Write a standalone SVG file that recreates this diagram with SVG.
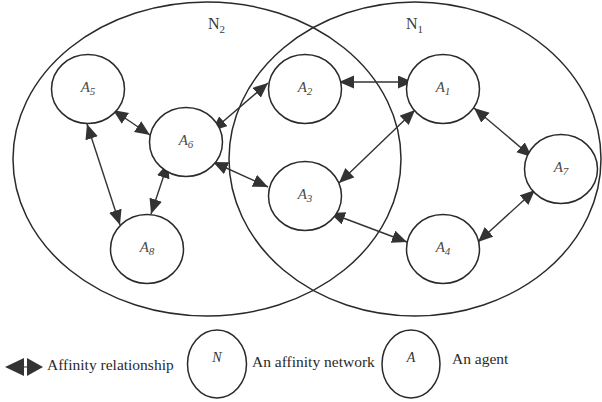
<svg xmlns="http://www.w3.org/2000/svg" width="602" height="402" viewBox="0 0 602 402">
<style>
text{font-family:'Liberation Serif','Times New Roman',Times,'DejaVu Serif',serif}
.net{fill:none;stroke:#2a2a2a;stroke-width:1.5}
.ag{fill:#fff;stroke:#2a2a2a;stroke-width:1.5}
.lbl{font-style:italic;font-size:15px;fill:#4a4a4a;text-anchor:middle}
.nl{font-size:16px;fill:#3a3a3a}
.leg{font-size:15.5px;fill:#2a2a2a}
.con line{stroke:#333;stroke-width:1.4;marker-start:url(#ah);marker-end:url(#ah)}
</style>
<defs>
<marker id="ah" markerUnits="userSpaceOnUse" markerWidth="16" markerHeight="14" refX="15" refY="6.5" orient="auto-start-reverse">
<path d="M0,0 L15,6.5 L0,13 z" fill="#333"/>
</marker>
</defs>
<rect width="602" height="402" fill="#fff"/>
<g id="N2"><ellipse class="net" cx="207" cy="159" rx="194" ry="157"/><text class="nl" x="208" y="29">N<tspan font-size="11" dy="4">2</tspan></text></g>
<g id="N1"><ellipse class="net" cx="415" cy="159" rx="186" ry="157"/><text class="nl" x="406" y="29">N<tspan font-size="11" dy="4">1</tspan></text></g>
<g class="con" id="connectors">
<line x1="113" y1="110" x2="150" y2="135"/>
<line x1="87" y1="124" x2="120" y2="225"/>
<line x1="168" y1="163" x2="151" y2="214"/>
<line x1="212" y1="131" x2="268" y2="83"/>
<line x1="213" y1="162" x2="268" y2="187"/>
<line x1="339" y1="82" x2="413" y2="82"/>
<line x1="415" y1="110" x2="339" y2="183"/>
<line x1="474" y1="108" x2="532" y2="157"/>
<line x1="330" y1="213" x2="407" y2="242"/>
<line x1="478" y1="242" x2="535" y2="190"/>
</g>
<g id="A1"><ellipse class="ag" cx="443" cy="89" rx="36.5" ry="34.5"/><text class="lbl" x="443" y="92">A<tspan font-size="11" dy="3">1</tspan></text></g>
<g id="A2"><ellipse class="ag" cx="305" cy="89" rx="36.5" ry="34.5"/><text class="lbl" x="305" y="92">A<tspan font-size="11" dy="3">2</tspan></text></g>
<g id="A3"><ellipse class="ag" cx="305" cy="196" rx="36.5" ry="34.5"/><text class="lbl" x="305" y="199">A<tspan font-size="11" dy="3">3</tspan></text></g>
<g id="A4"><ellipse class="ag" cx="443" cy="249" rx="36.5" ry="34.5"/><text class="lbl" x="443" y="252">A<tspan font-size="11" dy="3">4</tspan></text></g>
<g id="A5"><ellipse class="ag" cx="88" cy="89" rx="36.5" ry="34.5"/><text class="lbl" x="88" y="92">A<tspan font-size="11" dy="3">5</tspan></text></g>
<g id="A6"><ellipse class="ag" cx="186" cy="142" rx="36.5" ry="34.5"/><text class="lbl" x="186" y="145">A<tspan font-size="11" dy="3">6</tspan></text></g>
<g id="A7"><ellipse class="ag" cx="561" cy="169" rx="36.5" ry="34.5"/><text class="lbl" x="561" y="172">A<tspan font-size="11" dy="3">7</tspan></text></g>
<g id="A8"><ellipse class="ag" cx="147" cy="249" rx="36.5" ry="34.5"/><text class="lbl" x="147" y="252">A<tspan font-size="11" dy="3">8</tspan></text></g>
<g id="legend">
<polygon points="5,367 24,358 24,376" fill="#333"/>
<polygon points="43,367 27,358 27,376" fill="#333"/>
<line x1="24" y1="367" x2="27" y2="367" stroke="#333" stroke-width="1"/>
<text class="leg" x="47" y="370">Affinity relationship</text>
<ellipse class="net" cx="217" cy="364" rx="29.5" ry="34"/>
<text class="lbl" x="217" y="362" style="font-size:14px;fill:#333">N</text>
<text class="leg" x="252" y="367">An affinity network</text>
<ellipse class="net" cx="411" cy="364" rx="29" ry="34"/>
<text class="lbl" x="411" y="362" style="font-size:14px;fill:#333">A</text>
<text class="leg" x="452" y="364">An agent</text>
</g>
</svg>
